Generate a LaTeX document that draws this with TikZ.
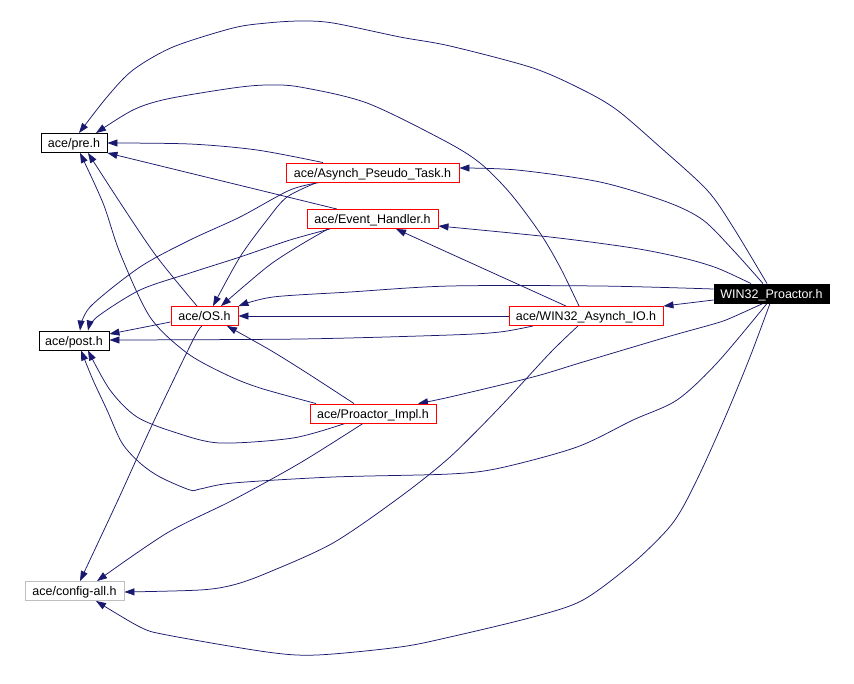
\documentclass[tikz,border=0pt]{standalone}
\usepackage{fontspec}
\setmainfont{Liberation Sans}
\usetikzlibrary{arrows.meta}
\definecolor{navy}{RGB}{25,25,112}
\definecolor{boxred}{RGB}{255,0,0}
\definecolor{boxgrey}{RGB}{191,191,191}
\pgfdeclarelayer{bg}
\pgfsetlayers{bg,main}
\tikzset{
  base/.style={font=\fontsize{12.5pt}{14pt}\selectfont, minimum height=19pt, inner sep=0pt, text height=9pt, text depth=0pt, fill=white, line width=0.9pt},
  blackbox/.style={base, draw=black},
  redbox/.style={base, draw=boxred},
  greybox/.style={base, draw=boxgrey},
  wpbox/.style={base, draw=black, fill=black, text=white},
  edge/.style={draw=navy, line width=0.75pt, -{Triangle[length=10pt,width=7pt]}},
  sm/.style={smooth, tension=0.5},
}
\begin{document}
\begin{tikzpicture}[x=1pt,y=-1pt]
\useasboundingbox (0,0) rectangle (854,683);
\node[blackbox, minimum width=66pt] (pre) at (74,143) {ace/pre.h};
\node[blackbox, minimum width=70pt] (post) at (74,340.5) {ace/post.h};
\node[redbox, minimum width=67pt] (OS) at (204.5,316) {ace/OS.h};
\node[redbox, minimum width=173pt] (APT) at (372.5,172.5) {ace/Asynch\_Pseudo\_Task.h};
\node[redbox, minimum width=131pt] (EH) at (372.5,219) {ace/Event\_Handler.h};
\node[redbox, minimum width=154pt] (WAIO) at (586,316) {ace/WIN32\_Asynch\_IO.h};
\node[wpbox, minimum width=115pt] (WP) at (771.5,293.5) {WIN32\_Proactor.h};
\node[redbox, minimum width=126pt] (PI) at (373,413.5) {ace/Proactor\_Impl.h};
\node[greybox, minimum width=99pt] (CA) at (74.5,591) {ace/config-all.h};
\begin{pgfonlayer}{bg}
\fill[white] (0,0) rectangle (854,683);
% from WIN32_Proactor.h
\draw[edge] plot[sm] coordinates {(WP.north -| 767,0) (733,227) (707,190) (660,147) (617,110) (583,90) (533,68) (450,46) (400,37) (333,23) (300,21) (267,23) (233,28) (173,47) (133,70) (107,97) (pre.north -| 79,0)};
\draw[edge] plot[sm] coordinates {(WP.north -| 763,0) (733,250) (703,220) (667,202) (600,182) (517,170) (APT.east |- 0,168)};
\draw[edge] plot[sm] coordinates {(WP.north -| 751,0) (717,268) (683,258) (633,248) (550,237) (EH.east |- 0,226)};
\draw[edge] plot[sm] coordinates {(WP.west |- 0,289) (600,286) (450,286) (350,292) (273,297) (OS.north east)};
\draw[edge] (WP.west |- 0,300) -- (WAIO.north east);
\draw[edge] plot[sm] coordinates {(WP.south -| 763,0) (733,317) (717,323) (667,337) (583,362) (533,377) (450,397) (PI.north -| 418,0)};
\draw[edge] plot[sm] coordinates {(WP.south -| 767,0) (717,363) (677,400) (633,420) (577,447) (500,468) (450,474) (333,477) (233,483) (200,489) (190,490) (160,477) (140,463) (122,443) (107,410) (93,380) (post.south -| 81,0)};
\draw[edge] plot[sm] coordinates {(WP.south -| 770,0) (750,357) (727,413) (703,467) (683,507) (667,530) (633,563) (583,600) (533,617) (450,637) (400,647) (317,655) (267,652) (167,635) (140,627) (CA.south -| 96,0)};
% from WIN32_Asynch_IO.h
\draw[edge] plot[sm] coordinates {(WAIO.north -| 579,0) (560,267) (540,233) (510,193) (480,163) (445,141) (367,103) (300,87) (267,85) (233,88) (167,99) (133,110) (pre.north -| 96,0)};
\draw[edge] (WAIO.north -| 566,0) -- (EH.south -| 396,0);
\draw[edge] (WAIO.west) -- (OS.east);
\draw[edge] plot[sm] coordinates {(WAIO.south -| 533,0) (500,332) (450,335) (300,339) (post.east |- 0,340)};
\draw[edge] plot[sm] coordinates {(WAIO.south -| 578,0) (550,353) (500,407) (450,457) (400,497) (333,543) (267,573) (233,585) (200,590) (CA.east |- 0,592)};
% from Asynch_Pseudo_Task.h
\draw[edge] plot[sm] coordinates {(APT.north -| 323,0) (257,150) (190,144) (pre.east |- 0,143)};
\draw[edge] plot[sm] coordinates {(APT.south -| 320,0) (290,190) (240,217) (190,240) (140,267) (90,307) (post.north -| 80,0)};
\draw[edge] plot[sm] coordinates {(APT.south -| 317,0) (287,197) (267,220) (240,257) (OS.north -| 213,0)};
% from Event_Handler.h
\draw[edge] (EH.north -| 337,0) -- (pre.south east);
\draw[edge] plot[sm] coordinates {(EH.south -| 330,0) (290,240) (240,257) (190,273) (140,290) (97,317) (post.north -| 88,0)};
\draw[edge] plot[sm] coordinates {(EH.south -| 328,0) (297,247) (267,267) (OS.north -| 221,0)};
% from OS.h
\draw[edge] plot[sm] coordinates {(OS.north -| 197,0) (157,257) (123,207) (pre.south -| 88,0)};
\draw[edge] (OS.west |- 0,322) -- (post.east |- 0,334);
\draw[edge] plot[sm] coordinates {(OS.south -| 202,0) (193,340) (153,423) (118,500) (CA.north -| 80,0)};
% from Proactor_Impl.h
\draw[edge] plot[sm] coordinates {(PI.north -| 316,0) (260,388) (227,375) (187,353) (150,317) (120,253) (103,203) (pre.south -| 80,0)};
\draw[edge] plot[sm] coordinates {(PI.north -| 354,0) (307,373) (270,350) (OS.south -| 227,0)};
\draw[edge] plot[sm] coordinates {(PI.south -| 345,0) (293,438) (220,443) (177,433) (137,417) (110,390) (post.south -| 88,0)};
\draw[edge] plot[sm] coordinates {(PI.south -| 363,0) (300,463) (233,500) (167,533) (CA.north -| 97,0)};
\end{pgfonlayer}
\end{tikzpicture}
\end{document}
